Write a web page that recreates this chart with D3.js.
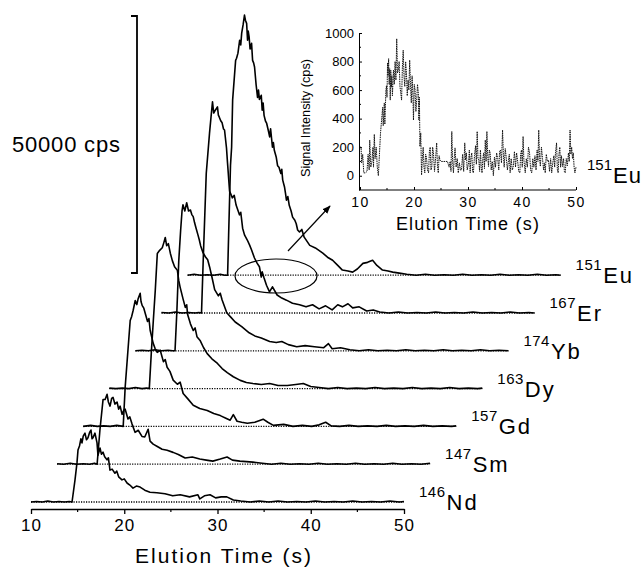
<!DOCTYPE html>
<html><head><meta charset="utf-8">
<script src="https://cdn.jsdelivr.net/npm/d3@7"></script>
<style>
body{margin:0;background:#fff;}
svg{display:block;font-family:"Liberation Sans",Arial,sans-serif;}
</style></head>
<body><svg id="chart" width="643" height="569"></svg>
<script>
// ---------- data ----------
const elements = ["Nd","Sm","Gd","Dy","Yb","Er","Eu"];
const massNumbers = ["146","147","157","163","174","167","151"];
const timeTicks = [10,20,30,40,50];
const scaleBarCps = 50000;
const scaleBarLabel = "50000 cps";

// [elution time (s), intensity (cps)]
const nd146 = [[10,0],[10.6,100],[11.2,0],[11.8,200],[12.4,0],[13.0,100],[13.6,0],[14.1,100],[14.4,0],[14.72,4300],[14.93,7600],[15.04,10100],[15.2,10900],[15.35,12300],[15.47,11500],[15.6,12800],[15.79,13400],[15.95,12100],[16.11,12500],[16.3,13600],[16.43,14000],[16.55,12300],[16.65,12500],[16.86,13400],[17.08,11500],[17.18,9100],[17.4,10500],[17.55,9300],[17.72,9700],[17.9,8800],[18.15,8200],[18.3,8600],[18.47,6200],[18.7,6400],[19.0,5600],[19.2,6000],[19.4,4900],[19.76,4300],[20.0,4500],[20.3,3700],[20.6,3300],[20.94,2700],[21.3,3100],[21.7,2900],[22.2,2300],[22.76,1900],[23.5,1800],[24.37,1600],[25.2,1200],[26.0,1400],[27.0,1000],[27.9,1400],[28.1,600],[28.6,1200],[29.2,1400],[29.8,800],[30.4,1000],[31.0,1000],[31.7,400],[32.5,200],[33.5,0],[34.5,200],[35.5,0],[36.5,200],[37.5,0],[38.5,100],[39.5,0],[40.5,200],[41.5,0],[42.5,100],[43.5,0],[44.5,200],[45.5,0],[46.5,100],[47.5,0],[48.5,200],[49.5,0],[50,100]];
const sm147 = [[10,100],[10.7,0],[11.4,200],[12.1,0],[12.8,100],[13.5,0],[14.0,200],[14.29,0],[14.6,6800],[14.93,12600],[15.15,12600],[15.36,13600],[15.5,12100],[15.68,11300],[15.85,12800],[16.0,13000],[16.2,11700],[16.43,12100],[16.6,10700],[16.76,11300],[16.97,9700],[17.15,10500],[17.3,10700],[17.6,8800],[17.8,9200],[18.04,7800],[18.36,6200],[18.7,6600],[19.1,5400],[19.4,5300],[19.76,6800],[19.97,4500],[20.3,3900],[20.7,3500],[21.26,2900],[21.8,2700],[22.44,2300],[23.0,1900],[23.73,1200],[24.5,1400],[25.3,1000],[26.0,800],[26.7,600],[27.5,1000],[28.23,1400],[28.8,800],[29.6,600],[31.0,400],[32.0,200],[33.0,0],[34.0,200],[35.0,0],[36.0,100],[37.0,0],[38.0,200],[39.0,0],[40.0,100],[41.0,0],[42.0,200],[43.0,0],[44.0,100],[45.0,0],[46.0,200],[47.0,0],[48.0,100],[49.0,0],[50,200]];
const gd157 = [[10,0],[10.8,200],[11.5,0],[12.2,100],[12.9,0],[13.6,200],[14.29,0],[14.5,7600],[15.04,20600],[15.2,21400],[15.36,22600],[15.58,24500],[15.75,23700],[15.9,24900],[16.11,25900],[16.2,24300],[16.33,23500],[16.5,23000],[16.65,22000],[16.9,20400],[17.05,21000],[17.18,18700],[17.5,16200],[17.7,15200],[17.94,14400],[18.26,14800],[18.6,12600],[18.8,13000],[19.0,11500],[19.3,10700],[19.65,9000],[20.1,8200],[20.4,8600],[20.72,6400],[21.2,5400],[21.8,4100],[22.5,3500],[23.3,3100],[24.0,2500],[24.7,2100],[25.3,1600],[25.76,1200],[26.1,2300],[26.5,1000],[27.0,800],[27.6,600],[28.4,800],[29.3,1400],[29.8,800],[30.4,200],[31.5,400],[32.5,0],[33.5,200],[34.5,0],[35.3,300],[36.0,800],[36.6,100],[37.5,0],[38.5,200],[39.5,0],[40.5,100],[41.5,0],[42.5,200],[43.5,0],[44.5,100],[45.5,0],[46.5,200],[47.5,0],[48.5,100],[49.5,0],[50,100]];
const dy163 = [[10,100],[10.7,0],[11.4,100],[12.1,0],[12.8,200],[13.5,0],[14.0,100],[14.29,0],[14.5,6800],[14.72,13200],[14.93,19100],[15.15,26300],[15.4,26900],[15.68,27400],[15.85,28400],[16.0,29400],[16.15,27800],[16.33,28200],[16.55,26300],[16.76,24900],[17.0,23700],[17.3,23000],[17.45,21000],[17.6,19700],[17.9,17500],[18.15,15800],[18.3,16300],[18.4,14400],[18.7,12600],[19.0,11300],[19.2,11800],[19.4,10100],[19.76,9300],[20.1,8000],[20.5,6800],[21.0,5800],[21.6,4900],[22.1,3900],[22.65,3100],[23.3,2300],[24.05,1600],[24.7,1200],[25.4,1000],[26.3,800],[27.2,1000],[28.1,600],[29.1,600],[30.0,800],[30.8,1000],[31.6,400],[32.5,200],[33.5,0],[34.5,200],[35.5,0],[36.5,100],[37.5,0],[38.5,200],[39.5,0],[40.5,100],[41.5,0],[42.5,200],[43.5,0],[44.5,100],[45.5,0],[46.5,200],[47.5,0],[48.5,100],[49.5,0],[50,100]];
const yb174 = [[10,0],[10.7,100],[11.4,0],[12.1,200],[12.8,0],[13.5,100],[14.0,0],[14.25,0],[14.45,7800],[14.65,17500],[14.85,23400],[15.0,27200],[15.1,28400],[15.3,27200],[15.5,28800],[15.7,27200],[15.9,27400],[16.05,26500],[16.2,26100],[16.35,24900],[16.5,23900],[16.7,22600],[16.85,21600],[17.0,20400],[17.25,19100],[17.5,18300],[17.75,17700],[18.0,16000],[18.2,14400],[18.5,11900],[18.9,10700],[19.1,11200],[19.3,9900],[19.8,7400],[20.2,6600],[20.7,5600],[21.4,4700],[22.2,3500],[22.8,2900],[23.5,2500],[24.4,1800],[25.1,1600],[25.7,1800],[26.4,1200],[27.3,800],[28.2,1000],[29.2,800],[30.2,600],[30.7,1400],[31.1,400],[32.0,600],[33.0,200],[34.0,0],[35.0,200],[36.0,0],[37.0,100],[38.0,0],[39.0,200],[40.0,0],[41.0,100],[42.0,0],[43.0,200],[44.0,0],[45.0,100],[46.0,0],[47.0,200],[48.0,0],[49.0,100],[50,0]];
const er167 = [[10,100],[10.8,0],[11.5,200],[12.2,0],[12.9,100],[13.6,0],[14.0,100],[14.29,0],[14.5,11700],[14.8,27200],[15.15,35000],[15.3,37900],[15.47,41100],[15.6,38900],[15.79,39500],[16.0,40100],[16.1,38500],[16.2,38100],[16.35,37400],[16.5,37000],[16.65,35800],[16.76,35600],[16.97,32100],[17.08,29200],[17.3,23700],[17.6,22400],[17.8,22900],[18.0,21000],[18.36,19100],[18.5,19600],[18.7,16500],[18.9,15200],[19.2,14200],[19.45,13200],[19.65,12300],[19.97,10700],[20.25,9700],[20.5,9000],[20.7,7000],[20.8,8000],[21.0,6800],[21.26,5400],[21.58,4100],[21.9,5100],[22.4,3500],[22.9,2900],[23.4,2500],[24.05,1900],[24.8,1600],[25.5,1200],[26.2,1600],[26.9,800],[27.6,1400],[28.3,600],[28.9,1600],[29.4,1200],[30.0,1800],[30.5,1000],[31.2,1200],[32.0,400],[32.7,600],[33.4,200],[34.4,0],[35.4,200],[36.4,0],[37.4,100],[38.4,0],[39.4,200],[40.4,0],[41.4,100],[42.4,0],[43.4,200],[44.4,0],[45.4,100],[46.4,0],[47.4,200],[48.4,0],[49.4,100],[50,0]];
const eu151 = [[10,0],[10.7,200],[11.4,0],[12.1,100],[12.8,0],[13.5,200],[14.0,0],[14.29,0],[14.4,7800],[14.6,21400],[14.72,24900],[14.83,34100],[15.15,41800],[15.25,42200],[15.4,43200],[15.58,45700],[15.7,44800],[15.8,47100],[15.95,48700],[16.1,50600],[16.2,49600],[16.33,49000],[16.43,45700],[16.5,47500],[16.6,46300],[16.7,44000],[16.86,45100],[16.97,41800],[17.08,41300],[17.18,40500],[17.35,37000],[17.5,34600],[17.6,36000],[17.7,34200],[17.9,35000],[18.0,32100],[18.1,33500],[18.2,31100],[18.35,30000],[18.47,29600],[18.65,28200],[18.8,26900],[18.9,28500],[19.1,24900],[19.2,25800],[19.3,24300],[19.5,23000],[19.65,21300],[19.8,21000],[20.0,19800],[20.1,20600],[20.2,18500],[20.4,17100],[20.5,15900],[20.6,14600],[20.75,15300],[20.9,13600],[21.1,12500],[21.26,11300],[21.5,10700],[21.65,10000],[21.8,8800],[22.0,8400],[22.25,8900],[22.5,7400],[23.1,5800],[23.7,5300],[24.5,4300],[25.0,3500],[25.55,2900],[26.1,1900],[26.6,1000],[27.2,800],[27.7,600],[28.2,1200],[28.8,2300],[29.3,2500],[29.84,2900],[30.3,1900],[30.9,1000],[31.5,800],[32.0,600],[32.7,400],[33.5,200],[34.5,0],[35.5,200],[36.5,0],[37.5,100],[38.5,0],[39.5,200],[40.5,0],[41.5,100],[42.5,0],[43.5,200],[44.5,0],[45.5,100],[46.5,0],[47.5,200],[48.5,0],[49.5,100],[50,0]];
const seriesData = [nd146, sm147, gd157, dy163, yb174, er167, eu151];

// inset: 151Eu trace [time (s), cps]
const insetEu = [[10,200],[10.2,200],[10.3,90],[10.5,150],[10.7,20],[11.0,20],[11.3,30],[11.5,150],[11.7,40],[11.8,250],[12.0,60],[12.2,100],[12.4,200],[12.5,60],[12.65,290],[12.8,120],[13.0,200],[13.2,60],[13.4,0],[13.6,150],[13.8,300],[14.0,390],[14.2,480],[14.3,350],[14.5,510],[14.6,360],[14.8,600],[14.9,630],[15.0,550],[15.1,790],[15.2,700],[15.3,820],[15.4,640],[15.5,750],[15.6,530],[15.7,740],[15.8,620],[15.9,700],[16.0,560],[16.2,740],[16.35,640],[16.5,800],[16.65,670],[16.8,960],[16.95,720],[17.1,740],[17.25,800],[17.4,625],[17.55,580],[17.7,530],[17.85,760],[18.0,880],[18.15,700],[18.3,625],[18.45,800],[18.6,720],[18.75,560],[18.9,670],[19.05,600],[19.2,810],[19.35,640],[19.5,510],[19.65,700],[19.8,560],[19.9,390],[20.05,640],[20.2,600],[20.35,450],[20.5,530],[20.65,640],[20.8,580],[20.9,390],[21.0,550],[21.1,205],[21.25,300],[21.4,5],[21.55,120],[21.7,200],[21.85,60],[22.0,20],[22.15,150],[22.3,130],[22.5,40],[22.7,20],[22.85,170],[23.0,200],[23.15,40],[23.3,65],[23.45,200],[23.6,160],[23.8,30],[24.0,120],[24.2,230],[24.35,60],[24.5,20],[24.65,140],[24.8,110],[25.0,100],[25.4,100],[25.8,100],[26.2,100],[26.5,60],[26.7,100],[26.85,30],[27.0,310],[27.15,100],[27.3,20],[27.45,120],[27.6,195],[27.8,60],[28.0,120],[28.2,20],[28.4,90],[28.6,40],[28.8,40],[29.0,150],[29.2,30],[29.4,230],[29.55,110],[29.7,160],[29.85,40],[30.1,90],[30.25,180],[30.4,20],[30.55,130],[30.7,160],[30.85,30],[31.0,20],[31.2,140],[31.4,210],[31.55,80],[31.7,310],[31.85,120],[32.0,110],[32.15,30],[32.3,180],[32.45,60],[32.6,20],[32.75,120],[32.9,160],[33.05,50],[33.2,250],[33.35,100],[33.5,310],[33.65,140],[33.8,65],[33.95,180],[34.1,160],[34.3,40],[34.5,100],[34.7,0],[34.9,130],[35.1,60],[35.3,160],[35.5,120],[35.7,40],[35.85,170],[36.0,180],[36.2,90],[36.4,320],[36.55,150],[36.7,60],[36.9,190],[37.1,120],[37.3,40],[37.5,110],[37.65,150],[37.8,20],[38.0,120],[38.2,40],[38.4,65],[38.6,170],[38.8,60],[39.0,160],[39.2,100],[39.4,30],[39.6,20],[39.75,150],[39.9,180],[40.05,60],[40.2,275],[40.35,110],[40.6,20],[40.8,120],[41.0,60],[41.2,200],[41.4,160],[41.6,40],[41.8,20],[42.0,120],[42.2,60],[42.4,140],[42.6,40],[42.8,180],[42.95,100],[43.1,320],[43.25,120],[43.4,65],[43.6,200],[43.8,120],[44.0,40],[44.15,90],[44.3,20],[44.5,150],[44.7,100],[44.9,110],[45.1,30],[45.3,120],[45.5,20],[45.7,90],[45.9,140],[46.05,60],[46.2,160],[46.4,230],[46.55,40],[46.7,20],[46.85,150],[47.0,200],[47.15,60],[47.3,140],[47.5,65],[47.7,120],[47.85,30],[48.0,20],[48.2,120],[48.4,70],[48.6,160],[48.75,100],[48.9,320],[49.05,150],[49.2,200],[49.35,120],[49.5,160],[49.65,60],[49.8,20],[50,60]];
const insetYTicks = [0,200,400,600,800,1000];
const insetXTicks = [10,20,30,40,50];
const insetLabel = {mass:"151", el:"Eu"};

// ---------- layout ----------
const svg = d3.select("#chart");
const font = '"Liberation Sans",Arial,sans-serif';
const x0 = 31, baseY0 = 502, stepX = 26.1, stepY = 37.8;
const x = d3.scaleLinear().domain([10,50]).range([0,373]);
const y = d3.scaleLinear().domain([0,50000]).range([0,-257]);
const line = d3.line().x(d=>x(d[0])).y(d=>y(d[1]));

seriesData.forEach((data,i)=>{
  const g = svg.append("g").attr("transform",`translate(${x0+i*stepX},${baseY0-i*stepY})`);
  g.append("line").attr("x1",x(10)).attr("x2",x(50)).attr("y1",0).attr("y2",0)
    .attr("stroke","#000").attr("stroke-width",1.3).attr("stroke-dasharray","1.2,1.3");
  g.append("path").datum(data).attr("d",line).attr("fill","none")
    .attr("stroke","#000").attr("stroke-width",1.6).attr("stroke-linejoin","round");
  const t = g.append("text").attr("x",x(50)+15).attr("y",8)
    .attr("font-family",font).attr("fill","#000");
  t.append("tspan").attr("font-size",15).attr("dy",-13).attr("letter-spacing",0.5).text(massNumbers[i]);
  t.append("tspan").attr("font-size",22).attr("dy",13).attr("dx",1).attr("letter-spacing",2).text(elements[i]);
});

// bottom axis
const axG = svg.append("g").attr("transform",`translate(${x0},509)`);
axG.call(d3.axisBottom(x).tickValues(timeTicks).tickSize(5).tickSizeOuter(0).tickPadding(5))
  .call(g=>g.select(".domain").attr("stroke-width",1.4))
  .call(g=>g.selectAll(".tick line").attr("stroke-width",1.3))
  .call(g=>g.selectAll(".tick text").attr("font-size",17).attr("font-family",font).attr("fill","#000").attr("letter-spacing",1));
axG.selectAll(".minor").data([15,25,35,45]).enter().append("line").attr("class","minor")
  .attr("x1",d=>x(d)).attr("x2",d=>x(d)).attr("y1",0).attr("y2",3).attr("stroke","#000").attr("stroke-width",1.2);
svg.append("text").attr("x",224).attr("y",563).attr("text-anchor","middle")
  .attr("font-family",font).attr("font-size",21).attr("letter-spacing",2).text("Elution Time (s)");

// scale bar
const barX = 137, barBottom = 273, barTop = barBottom + y(scaleBarCps);
svg.append("path").attr("d",`M131,${barTop}H${barX}V${barBottom}H131`).attr("fill","none").attr("stroke","#000").attr("stroke-width",1.8);
svg.append("text").attr("x",12).attr("y",152).attr("font-family",font).attr("font-size",22).attr("letter-spacing",0.8).text(scaleBarLabel);

// ellipse + arrow
svg.append("ellipse").attr("cx",276).attr("cy",276).attr("rx",41).attr("ry",17).attr("fill","none").attr("stroke","#000").attr("stroke-width",1.2);
svg.append("defs").append("marker").attr("id","ah").attr("viewBox","0 0 10 10").attr("refX",9).attr("refY",5)
  .attr("markerWidth",7).attr("markerHeight",7).attr("orient","auto")
  .append("path").attr("d","M0,1L10,5L0,9Z").attr("fill","#000");
svg.append("line").attr("x1",288).attr("y1",251).attr("x2",330).attr("y2",206).attr("stroke","#000").attr("stroke-width",1.2).attr("marker-end","url(#ah)");

// inset
const ix = d3.scaleLinear().domain([10,50]).range([360,576]);
const iy = d3.scaleLinear().domain([-100,1000]).range([190,33]);
const ig = svg.append("g");
ig.append("path").datum(insetEu).attr("d",d3.line().x(d=>ix(d[0])).y(d=>iy(d[1])))
  .attr("fill","none").attr("stroke","#111").attr("stroke-width",1).attr("stroke-dasharray","1.5,0.8");
ig.append("g").attr("transform","translate(359,0)")
  .call(d3.axisLeft(iy).tickValues(insetYTicks).tickFormat(d3.format("d")).tickSize(-3).tickSizeOuter(0).tickPadding(5))
  .call(g=>g.selectAll(".tick text").attr("font-size",13).attr("font-family",font).attr("fill","#000"));
ig.append("g").attr("transform","translate(0,190)")
  .call(d3.axisBottom(ix).tickValues(insetXTicks).tickSize(-3).tickSizeOuter(0).tickPadding(7))
  .call(g=>g.select(".domain").attr("d","M359,0H576"))
  .call(g=>g.selectAll(".tick text").attr("font-size",14).attr("font-family",font).attr("fill","#000").attr("letter-spacing",1.5));
ig.selectAll(".iminx").data([15,25,35,45]).enter().append("line")
  .attr("x1",d=>ix(d)).attr("x2",d=>ix(d)).attr("y1",190).attr("y2",188).attr("stroke","#000");
ig.selectAll(".iminy").data([100,300,500,700,900]).enter().append("line")
  .attr("x1",359).attr("x2",361).attr("y1",d=>iy(d)).attr("y2",d=>iy(d)).attr("stroke","#000");
ig.append("text").attr("transform","translate(310,118) rotate(-90)").attr("text-anchor","middle")
  .attr("font-family",font).attr("font-size",13).attr("textLength",118).attr("lengthAdjust","spacingAndGlyphs")
  .text("Signal Intensity (cps)");
ig.append("text").attr("x",468).attr("y",230).attr("text-anchor","middle")
  .attr("font-family",font).attr("font-size",18).attr("letter-spacing",1.2).text("Elution Time (s)");
const il = ig.append("text").attr("x",587).attr("y",183).attr("font-family",font);
il.append("tspan").attr("font-size",15).attr("dy",-13).text(insetLabel.mass);
il.append("tspan").attr("font-size",22).attr("dy",13).attr("dx",1).attr("letter-spacing",1).text(insetLabel.el);
</script></body></html>
